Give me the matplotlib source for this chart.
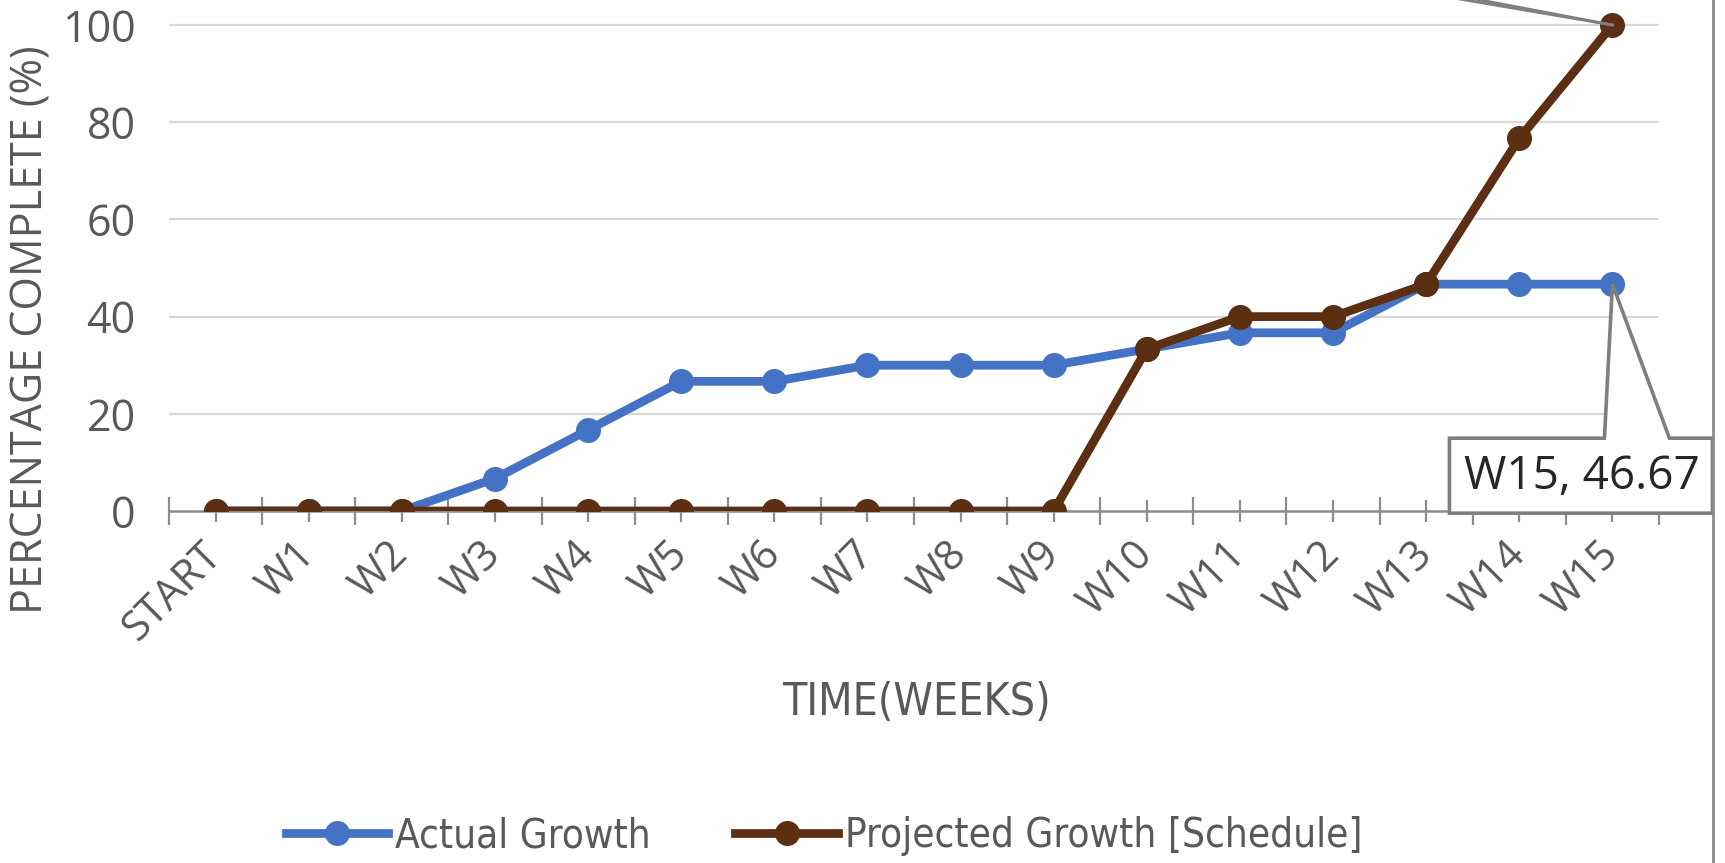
import numpy as np
import matplotlib
matplotlib.use('Agg')
import matplotlib.pyplot as plt
import matplotlib.font_manager as fm
from matplotlib import transforms
from matplotlib.patches import Polygon
from matplotlib.lines import Line2D

weeks = ['START', 'W1', 'W2', 'W3', 'W4', 'W5', 'W6', 'W7', 'W8', 'W9',
         'W10', 'W11', 'W12', 'W13', 'W14', 'W15']
actual = [0, 0, 0, 6.67, 16.67, 26.67, 26.67, 30, 30, 30,
          33.33, 36.67, 36.67, 46.67, 46.67, 46.67]
projected = [0, 0, 0, 0, 0, 0, 0, 0, 0, 0,
             33.33, 40, 40, 46.67, 76.67, 100]
yticks = [0, 20, 40, 60, 80, 100]

plt.rcParams['font.family'] = ['Open Sans', 'DejaVu Sans']

# look for a condensed face for the axis title / legend (Calibri-like look)
cond = None
for f in fm.fontManager.ttflist:
    if ('Narrow' in f.name or 'Condensed' in f.name or f.stretch == 'condensed' \
            or 'Condensed' in f.fname) and f.style == 'normal' and f.weight in (400, 'normal', 'regular'):
        cond = f.fname
        break
if cond:
    cprop = lambda size: fm.FontProperties(fname=cond, size=size)
    csize = 29
else:
    cprop = lambda size: fm.FontProperties(family='Open Sans', size=size)
    csize = 26

blue = '#4472C4'
brown = '#5C2E12'
grey = '#595959'

fig = plt.figure(figsize=(17.25, 8.63), dpi=100)
ax = fig.add_axes([169/1725, 1 - 511/863, 1490/1725, 511/863])

x = np.arange(len(weeks))
ax.plot(x, actual, color=blue, lw=6.3, marker='o', ms=17, zorder=3,
        label='Actual Growth')
ax.plot(x, projected, color=brown, lw=6.3, marker='o', ms=17, zorder=4,
        label='Projected Growth [Schedule]')

ax.set_xlim(-0.5, len(weeks) - 0.5)
ax.set_ylim(0, 511 / 4.86)
ax.set_yticks(yticks)
for v in yticks[1:]:
    ax.axhline(v, color='#D9D9D9', lw=1.6, zorder=1)

for s in ['top', 'right', 'left']:
    ax.spines[s].set_visible(False)
ax.spines['bottom'].set_color('#8C8C8C')
ax.spines['bottom'].set_linewidth(1.8)

ax.set_xticks(x)
ax.set_xticks(np.arange(-0.5, len(weeks)), minor=True)
ax.set_xticklabels(weeks, rotation=45, ha='right', va='center',
                   rotation_mode='anchor', fontsize=30, color=grey)
ax.tick_params(axis='x', which='major', direction='inout', length=16,
               width=1.6, color='#8C8C8C', pad=19)
ax.tick_params(axis='x', which='minor', direction='inout', length=20,
               width=1.6, color='#8C8C8C')
ax.tick_params(axis='y', length=0, labelsize=31, labelcolor=grey, pad=24)

fig.text(31/1725, 1 - 330/863, 'PERCENTAGE COMPLETE (%)', rotation=90,
         ha='center', va='center', fontsize=31, color=grey)
fig.text(916/1725, 1 - 702/863, 'TIME(WEEKS)', ha='center', va='center',
         color=grey, fontproperties=cprop(csize + 3))

leg = fig.legend(loc='center', bbox_to_anchor=(824/1725, 1 - 836/863), ncol=2,
                 frameon=False, handlelength=2.55, handletextpad=0.17,
                 columnspacing=2.1, prop=cprop(csize))
for t in leg.get_texts():
    t.set_color(grey)

# callout for the last actual point
off = fig.dpi_scale_trans + transforms.ScaledTranslation(x[-1], actual[-1], ax.transData)
pts = np.array([[-163, -154], [-8, -154], [0, 0], [57, -154], [100, -154],
                [100, -229], [-163, -229]]) / fig.dpi
ax.add_patch(Polygon(pts, closed=True, transform=off, facecolor='white',
                     edgecolor='#7F7F7F', lw=2.6, clip_on=False, zorder=6))
ax.text(-31 / fig.dpi, -193 / fig.dpi, f'{weeks[-1]}, {actual[-1]:.2f}',
        transform=off, ha='center', va='center', fontsize=33, color='#262626',
        zorder=7)

# leader lines of the cut-off callout above the last projected point
off2 = fig.dpi_scale_trans + transforms.ScaledTranslation(x[-1], projected[-1], ax.transData)
for dx, dy in [(-400, 68), (-380, 72)]:
    ax.add_line(Line2D([0, dx / fig.dpi], [0, dy / fig.dpi], transform=off2,
                       color='#7F7F7F', lw=2, clip_on=False, zorder=6))

# chart border on the right
fig.add_artist(Line2D([1713/1725, 1713/1725], [0, 1], transform=fig.transFigure,
                      color='#8C8C8C', lw=2))

fig.savefig('out.png', dpi=100)
